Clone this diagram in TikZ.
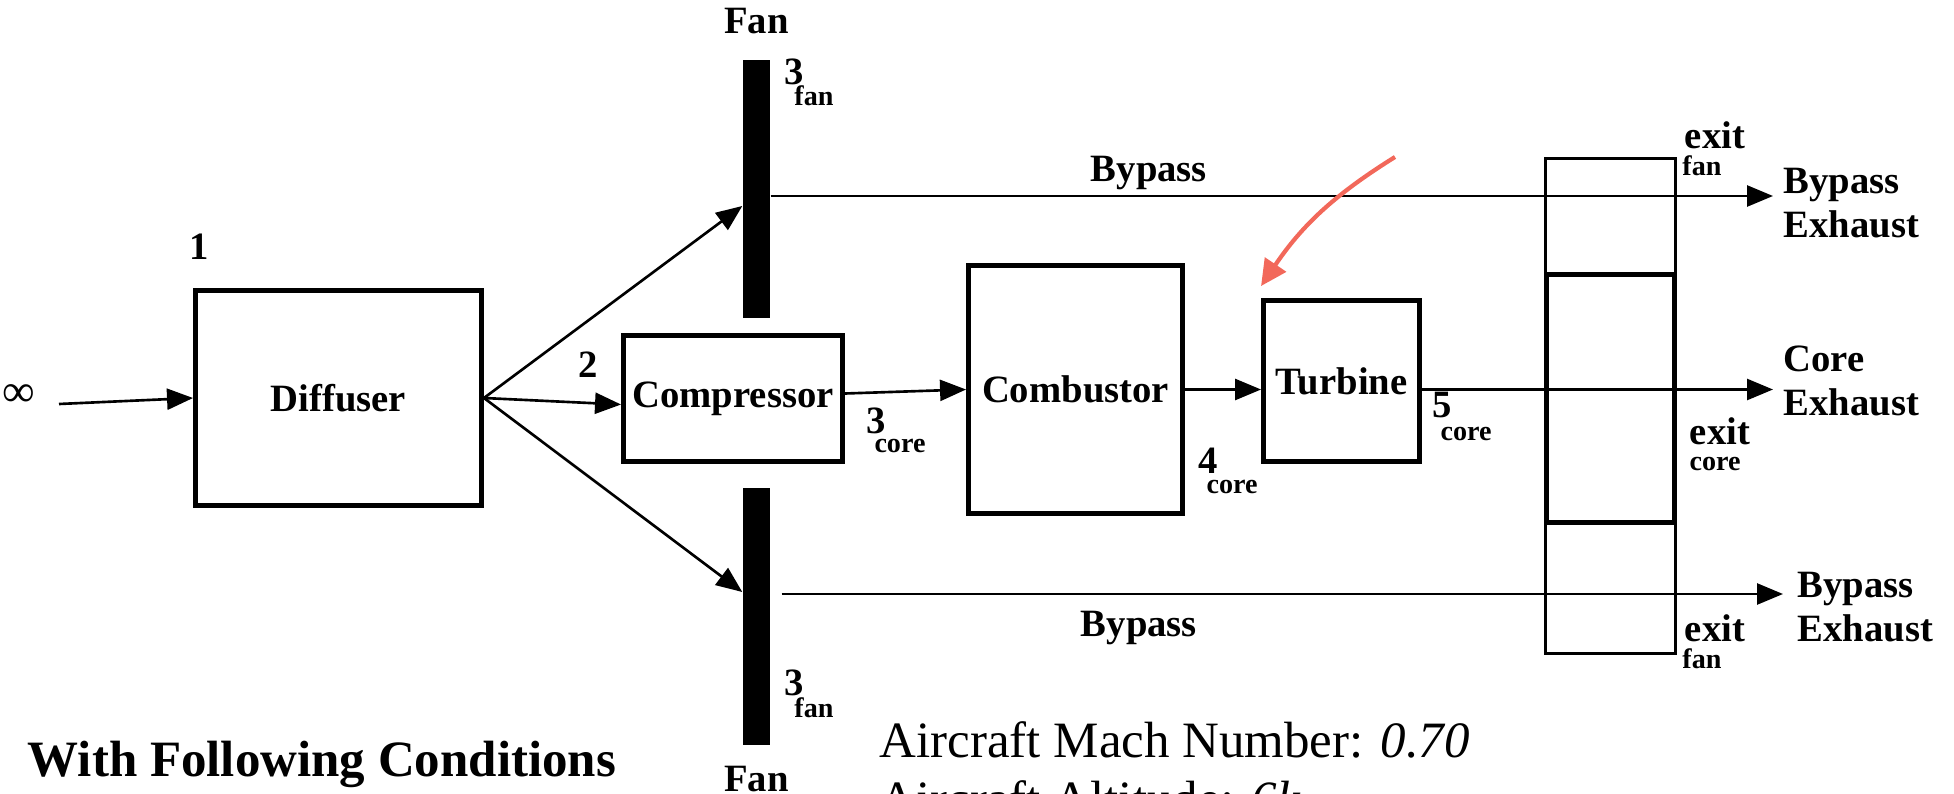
\documentclass[tikz,border=0pt]{standalone}
\usepackage{fontspec}
\setmainfont{Liberation Serif}
\usetikzlibrary{positioning, arrows.meta, calc}
\definecolor{ink}{HTML}{000000}
\definecolor{hint}{HTML}{F2685A}
\tikzset{
  nd/.style={draw=ink, line width=1.4pt, fill=white, text=ink,
    font=\bfseries\fontsize{11}{13}\selectfont, align=center, inner sep=0pt},
  ndf/.style={fill=ink, minimum width=2.7mm, inner sep=0pt},
  ndn/.style={draw=ink, line width=0.75pt, inner sep=0pt, minimum width=13mm},
  flow/.style={-{Triangle[length=2.6mm, width=2.1mm]}, line width=0.75pt, color=ink},
  flowr/.style={-{Triangle[length=2.6mm, width=2.5mm]}, line width=1.2pt, color=hint},
  lbl/.style={font=\bfseries\fontsize{11}{12.5}\selectfont, inner sep=0pt, align=left},
  lbs/.style={font=\bfseries\fontsize{8}{9}\selectfont, inner sep=0pt},
  txt/.style={font=\fontsize{14.5}{17}\selectfont, inner sep=0pt, anchor=base west},
}
\begin{document}
\begin{tikzpicture}
  \useasboundingbox (0,0) rectangle (19.54,7.93);
  % nozzle exit
  \node[ndn, minimum height=49.5mm] (noz) at (16.105,3.87) {};
  \node[nd, fill=none, minimum width=12.8mm, minimum height=24.8mm] (nozc) at (16.105,3.945) {};
  % stages
  \node[nd, minimum width=28.6mm, minimum height=21.5mm] (dif) at (3.385,3.95) {Diffuser};
  \node[nd, minimum width=21.9mm, minimum height=12.6mm] (comp) at (7.33,3.945) {Compressor};
  \node[nd, minimum width=21.4mm, minimum height=24.8mm] (comb) at (10.755,4.035) {Combustor};
  \node[nd, minimum width=15.6mm, minimum height=16.1mm] (turb) at (13.415,4.12) {Turbine};
  % fan
  \node[ndf, minimum height=25.8mm] (fanU) at (7.565,6.04) {};
  \node[ndf, minimum height=25.7mm] (fanL) at (7.565,1.765) {};
  \node[lbl, above=2.5mm of fanU] (fanUt) {Fan};
  \node[lbl, below=2mm of fanL] (fanLt) {Fan};
  % station labels
  \node[font=\fontsize{13}{15}\selectfont, inner sep=0pt] (inf) at (0.19,3.97) {∞};
  \coordinate (src) at (0.59,3.89);
  \node[lbl] (s1) at (1.99,5.46) {1};
  \node[lbl] (s2) at (5.88,4.28) {2};
  \node[lbl] (s3c) at (8.76,3.72) {3};
  \node[lbs] (s3cs) at (9.00,3.47) {core};
  \node[lbl] (s4c) at (12.08,3.32) {4};
  \node[lbs] (s4cs) at (12.32,3.06) {core};
  \node[lbl] (s5c) at (14.42,3.88) {5};
  \node[lbs] (s5cs) at (14.66,3.59) {core};
  \node[lbl] (s3u) at (7.94,7.21) {3};
  \node[lbs] (s3us) at (8.14,6.97) {fan};
  \node[lbl] (s3l) at (7.94,1.10) {3};
  \node[lbs] (s3ls) at (8.14,0.85) {fan};
  \node[lbl] (bpU) at (11.49,6.20) {Bypass};
  \node[lbl] (bpL) at (11.39,1.65) {Bypass};
  \node[lbl] (exU) at (17.15,6.58) {exit};
  \node[lbs] (exUs) at (17.02,6.27) {fan};
  \node[lbl] (exC) at (17.20,3.62) {exit};
  \node[lbs] (exCs) at (17.15,3.29) {core};
  \node[lbl] (exL) at (17.15,1.65) {exit};
  \node[lbs] (exLs) at (17.02,1.34) {fan};
  % exhausts
  \node[lbl, anchor=west] (byU) at (17.83,5.90) {Bypass\\Exhaust};
  \node[lbl, anchor=west] (coreEx) at (17.83,4.12) {Core\\Exhaust};
  \node[lbl, anchor=west] (byL) at (17.97,1.86) {Bypass\\Exhaust};
  % conditions
  \node[font=\bfseries\fontsize{14.5}{17}\selectfont, inner sep=0pt] (cond) at (3.22,0.29) {With Following Conditions};
  \node[txt] (mach) at (8.79,0.36) {Aircraft Mach Number: \textit{0.70}};
  \node[txt] (alt) at (8.79,-0.23) {Aircraft Altitude: \textit{6k}};
  % flows
  \draw[flow] (src) -- (dif.west);
  \draw[flow] (dif.east) -- ([yshift=-1.7mm]fanU.west);
  \draw[flow] (dif.east) -- ([yshift=-0.6mm]comp.west);
  \draw[flow] (dif.east) -- ([yshift=2.45mm]fanL.west);
  \draw[flow] ([yshift=0.5mm]comp.east) -- (comb.west);
  \draw[flow] (comb.east) -- (comb.east -| turb.west);
  \draw[flow, shorten >=1mm] (turb.east |- comb.east) -- (comb.east -| coreEx.west);
  \draw[flow, shorten >=1mm] ([yshift=-0.7mm]fanU.east) coordinate (bu) -- (bu -| byU.west);
  \draw[flow, shorten <=1.1mm, shorten >=1.4mm] ([yshift=2.25mm]fanL.east) coordinate (bl) -- (bl -| byL.west);
  \coordinate (hintS) at (13.95,6.36);
  \draw[flowr] (hintS) to[bend right=12] ([yshift=1.2mm]turb.north west);
\end{tikzpicture}
\end{document}
